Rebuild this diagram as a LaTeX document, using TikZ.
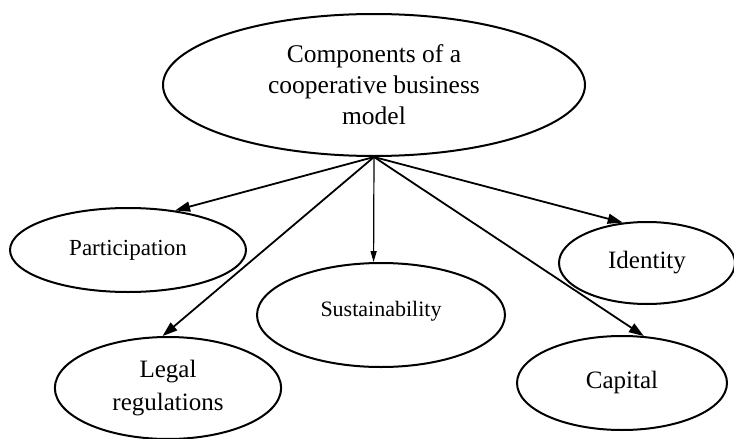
\documentclass[tikz,border=0pt]{standalone}
\usepackage{fontspec}
\setmainfont{Liberation Serif}
\usetikzlibrary{shapes.geometric,arrows.meta}
\begin{document}
\begin{tikzpicture}[x=1pt,y=-1pt,
  oval/.style={draw,ellipse,line width=2pt,inner sep=0pt,align=center},
  link/.style={line width=1.8pt,-{Triangle[length=15pt,width=10pt]}},
  thinlink/.style={line width=1.2pt,-{Triangle[length=11pt,width=6pt]}}]
\useasboundingbox (0,0) rectangle (734,439);
\node[oval,minimum width=422pt,minimum height=142pt,
  font=\fontsize{25.5}{31}\selectfont] (top) at (374,85)
  {\raisebox{2pt}{\parbox{260pt}{\centering Components of a\\cooperative business\\model}}};
\node[oval,minimum width=236pt,minimum height=84pt,
  font=\fontsize{23}{28}\selectfont] (p) at (128,250) {\raisebox{5pt}{Participation}};
\node[oval,minimum width=220pt,minimum height=102pt,
  font=\fontsize{25}{33}\selectfont] (l) at (168,388)
  {\raisebox{-5pt}{\parbox{160pt}{\centering Legal\\regulations}}};
\node[oval,minimum width=248pt,minimum height=104pt,
  font=\fontsize{22}{27}\selectfont] (s) at (381,315) {\raisebox{13pt}{Sustainability}};
\node[oval,minimum width=176pt,minimum height=82pt,
  font=\fontsize{25}{30}\selectfont] (i) at (647,263) {\raisebox{3pt}{Identity}};
\node[oval,minimum width=210pt,minimum height=94pt,
  font=\fontsize{25}{30}\selectfont] (c) at (622,383) {\raisebox{6pt}{Capital}};
\draw[link] (top.south) -- (p.40);
\draw[link] (top.south) -- (l.96);
\draw[thinlink] (top.south) -- (s.98);
\draw[link] (top.south) -- (i.121);
\draw[link] (top.south) -- (c.65);
\end{tikzpicture}
\end{document}
